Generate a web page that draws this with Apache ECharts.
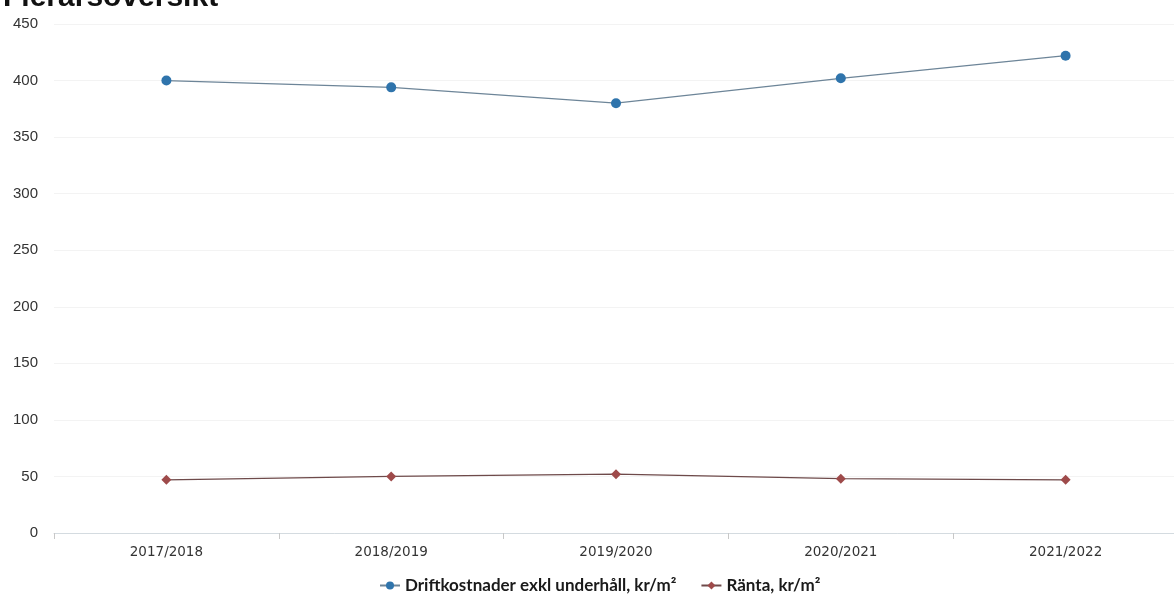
<!DOCTYPE html>
<html>
<head>
<meta charset="utf-8">
<script src="https://cdn.jsdelivr.net/npm/echarts@6/dist/echarts.min.js"></script>
<style>
html,body{margin:0;padding:0;background:#fff;overflow:hidden;}
#c{width:1182px;height:596px;}
</style>
</head>
<body>
<div id="c"></div>
<script>
const titleText = 'Flerårsöversikt';
const categories = ['2017/2018', '2018/2019', '2019/2020', '2020/2021', '2021/2022'];
const driftName = 'Driftkostnader exkl underhåll, kr/m²';
const driftValues = [400, 394, 380, 402, 422];
const rantaName = 'Ränta, kr/m²';
const rantaValues = [47, 50, 52, 48, 47];
const yTicks = [0, 50, 100, 150, 200, 250, 300, 350, 400, 450];

const chart = echarts.init(document.getElementById('c'));
chart.setOption({
  animation: false,
  backgroundColor: '#fff',
  title: {
    text: titleText,
    left: -2,
    top: -22,
    textStyle: {fontFamily: 'Liberation Sans', fontWeight: 'bold', fontSize: 30, color: '#111'}
  },
  legend: {
    bottom: -3,
    left: 374,
    itemGap: 24,
    itemWidth: 20,
    itemHeight: 10,
    textStyle: {fontFamily: 'Lato', fontWeight: 'bold', fontSize: 17, color: '#1a1a1a'},
    data: [driftName, rantaName]
  },
  grid: {left: 54, right: 4, top: 24, bottom: 63, containLabel: false},
  xAxis: {
    type: 'category',
    data: categories,
    boundaryGap: true,
    axisLine: {lineStyle: {color: '#d4dbe0', width: 1}},
    axisTick: {show: true, lineStyle: {color: '#c8c8c8'}, length: 6},
    axisLabel: {fontFamily: 'DejaVu Sans', fontSize: 13.5, color: '#333', margin: 12}
  },
  yAxis: {
    type: 'value',
    min: yTicks[0],
    max: yTicks[yTicks.length - 1],
    interval: yTicks[1] - yTicks[0],
    axisLine: {show: false},
    axisTick: {show: false},
    axisLabel: {fontFamily: 'Liberation Sans', fontSize: 15, color: '#333', margin: 16, align: 'right'},
    splitLine: {lineStyle: {color: '#f3f3f3', width: 1}}
  },
  series: [
    {
      name: driftName,
      type: 'line',
      data: driftValues,
      symbol: 'circle',
      symbolSize: 10,
      itemStyle: {color: '#2f74ac'},
      lineStyle: {color: '#6d8598', width: 1.2}
    },
    {
      name: rantaName,
      type: 'line',
      data: rantaValues,
      symbol: 'diamond',
      symbolSize: 10,
      itemStyle: {color: '#9e4a4a'},
      lineStyle: {color: '#6e4a4a', width: 1.2}
    }
  ]
});
</script>
</body>
</html>
